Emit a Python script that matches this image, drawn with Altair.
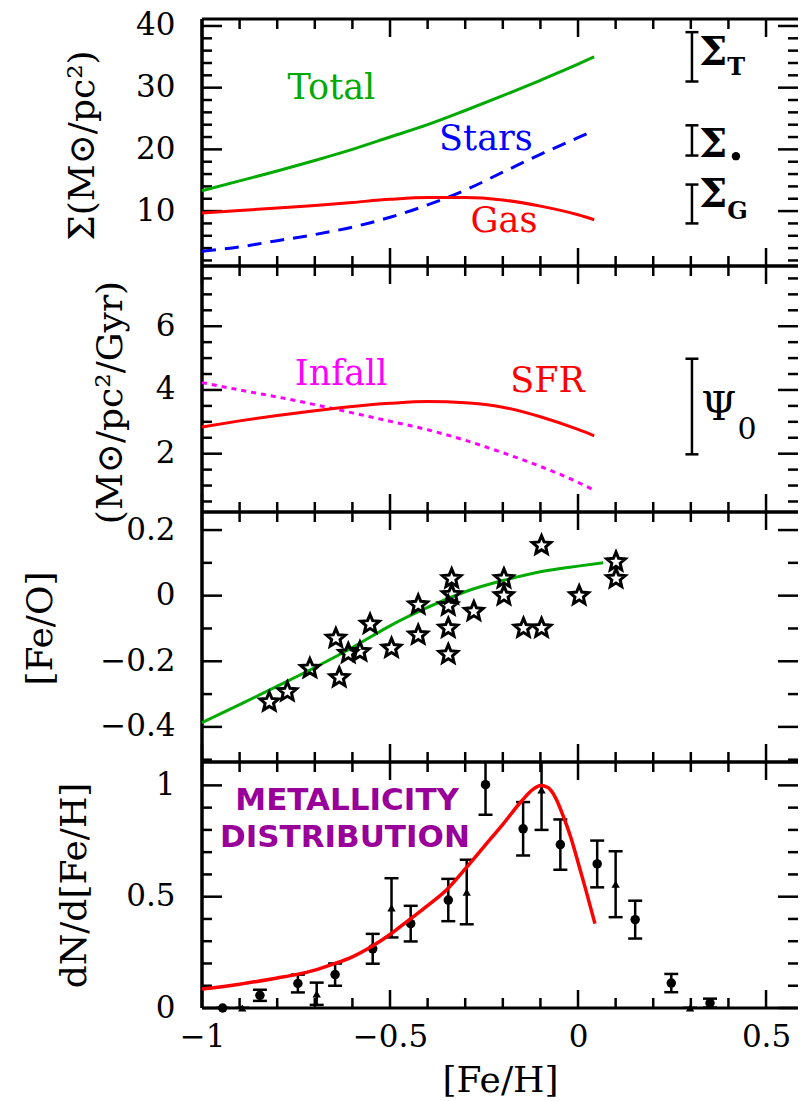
import math
import altair as alt
import pandas as pd

SERIF = "DejaVu Serif"
SANS = "DejaVu Sans"

# ---------------- data ----------------
feh_model = [-1.0, -0.9, -0.8, -0.7, -0.6, -0.5, -0.4, -0.3, -0.2, -0.1, 0.0, 0.043]
sigma_total = [13.3, 14.9, 16.5, 18.2, 20.0, 22.0, 24.0, 26.3, 28.7, 31.2, 33.8, 35.0]
sigma_stars = [3.5, 4.2, 5.2, 6.2, 7.4, 9.0, 11.0, 13.4, 16.3, 19.2, 21.9, 23.1]
sigma_gas = [9.7, 10.1, 10.5, 10.9, 11.4, 11.9, 12.2, 12.2, 11.8, 10.8, 9.4, 8.6]
infall = [4.23, 4.0, 3.78, 3.54, 3.28, 3.02, 2.75, 2.42, 2.03, 1.6, 1.1, 0.85]
sfr = [2.84, 3.03, 3.2, 3.35, 3.48, 3.58, 3.64, 3.6, 3.46, 3.16, 2.76, 2.56]

feh_feo_model = [-1.0, -0.9, -0.8, -0.7, -0.6, -0.5, -0.4, -0.3, -0.2, -0.1, 0.0, 0.067]
feo_model = [-0.387, -0.332, -0.276, -0.219, -0.158, -0.092, -0.036, 0.012, 0.046, 0.073, 0.09, 0.10]

feh_star = [-0.821, -0.773, -0.713, -0.644, -0.635, -0.611, -0.58, -0.553, -0.496, -0.425,
            -0.425, -0.336, -0.336, -0.345, -0.345, -0.345, -0.277, -0.197, -0.197, -0.145,
            -0.097, -0.097, 0.003, 0.101, 0.101]
feo_star = [-0.324, -0.293, -0.222, -0.13, -0.25, -0.176, -0.171, -0.087, -0.16, -0.028,
            -0.12, 0.052, 0.003, -0.031, -0.099, -0.179, -0.048, 0.052, 0.0, -0.099,
            -0.099, 0.153, 0.0, 0.103, 0.052]

feh_md_model = [-1.0, -0.9, -0.8, -0.75, -0.7, -0.65, -0.6, -0.55, -0.5, -0.45, -0.4, -0.35,
                -0.3, -0.25, -0.2, -0.15, -0.12, -0.1, -0.08, -0.06, -0.04, -0.02, 0.0,
                0.02, 0.045]
md_model = [0.085, 0.107, 0.135, 0.15, 0.17, 0.198, 0.23, 0.275, 0.33, 0.395, 0.46, 0.53,
            0.625, 0.725, 0.825, 0.93, 0.982, 1.0, 0.99, 0.945, 0.865, 0.77, 0.655,
            0.535, 0.379]

feh_circ = [-0.945, -0.846, -0.745, -0.646, -0.546, -0.445, -0.345, -0.246, -0.146, -0.047,
            0.051, 0.152, 0.248, 0.351]
md_circ = [0.0, 0.057, 0.11, 0.15, 0.266, 0.379, 0.485, 1.003, 0.805, 0.734, 0.647, 0.397, 0.112, 0.022]
err_circ = [0.0, 0.025, 0.04, 0.05, 0.067, 0.08, 0.095, 0.135, 0.12, 0.113, 0.105, 0.085, 0.041, 0.02]

feh_tri = [-0.893, -0.695, -0.496, -0.296, -0.097, 0.1, 0.298]
md_tri = [0.0, 0.064, 0.45, 0.521, 0.98, 0.556, 0.0]
err_tri = [0.0, 0.05, 0.133, 0.145, 0.18, 0.148, 0.0]

# reference error bars at the right of the two upper panels
bar_x = [0.303]
sigma_bar_lo = [31.0, 19.0, 8.0]
sigma_bar_hi = [39.0, 23.9, 14.3]
psi_bar_lo = [1.98]
psi_bar_hi = [4.98]

# tick values
x_major = [-1.0, -0.5, 0.0, 0.5]
x_minor = [-0.9, -0.8, -0.7, -0.6, -0.4, -0.3, -0.2, -0.1, 0.1, 0.2, 0.3, 0.4]
p1_major = [10, 20, 30, 40]
p1_minor = [2, 4, 6, 8, 12, 14, 16, 18, 22, 24, 26, 28, 32, 34, 36, 38]
p2_major = [2, 4, 6]
p2_minor = [0.5, 1, 1.5, 2.5, 3, 3.5, 4.5, 5, 5.5, 6.5, 7, 7.5]
p3_major = [-0.4, -0.2, 0, 0.2]
p3_minor = [-0.5, -0.3, -0.1, 0.1]
p4_major = [0, 0.5, 1]
p4_minor = [0.1, 0.2, 0.3, 0.4, 0.6, 0.7, 0.8, 0.9]

# ---------------- layout / style ----------------
W = 596
X_DOMAIN = [-1.0, 0.585]
xscale = alt.Scale(domain=X_DOMAIN, nice=False, zero=False)
GREEN = "#00aa00"
BLUE = "#0000ff"
RED = "#ff0000"
MAGENTA = "#ff00ff"
PURPLE = "#990099"
FMT = ".1~f"

# open five-pointed star as a custom symbol path
pts = []
for k in range(10):
    r = 1.0 if k % 2 == 0 else 0.45
    a = math.radians(-90 + 36 * k)
    pts.append(f"{r*math.cos(a):.3f},{r*math.sin(a):.3f}")
STAR = "M" + " L".join(pts) + " Z"

one = pd.DataFrame({"k": [0]})


def yaxis(values, title, tx, ty):
    return alt.Axis(values=values, format=FMT, ticks=False, domain=False, grid=False,
                    labelFont=SERIF, labelFontSize=31, labelColor="black", labelPadding=27,
                    labelOverlap=False, labelFlush=False,
                    title=title, titleFont=SERIF, titleFontSize=36, titleFontWeight="normal",
                    titleColor="black", titleX=tx, titleY=ty, titleAngle=270,
                    titleBaseline="middle", titleAlign="center")


xaxis_bottom = alt.Axis(values=x_major, format=FMT, ticks=False, domain=False, grid=False,
                        labelFont=SERIF, labelFontSize=31, labelColor="black", labelPadding=14,
                        labelOverlap=False, labelFlush=False,
                        title="[Fe/H]", titleFont=SERIF, titleFontSize=36,
                        titleFontWeight="normal", titleColor="black", titleY=72,
                        titleBaseline="middle")


def frame(H, ys, yax, xax):
    X = lambda f: alt.X(f, type="quantitative", scale=xscale, axis=xax)
    Y = lambda f: alt.Y(f, type="quantitative", scale=ys, axis=yax)
    layers = []
    base = alt.Chart(one)
    layers.append(base.mark_rule(color="black", strokeWidth=3.5).encode(
        x=alt.value(0), y=alt.value(0), y2=alt.value(H)))
    layers.append(base.mark_rule(color="black", strokeWidth=3).encode(
        x=alt.value(0), x2=alt.value(W), y=alt.value(0)))
    layers.append(base.mark_rule(color="black", strokeWidth=3).encode(
        x=alt.value(0), x2=alt.value(W), y=alt.value(H)))
    return layers, X, Y


def ticks(H, X, Y, ymaj, ymin):
    out = []
    for vals, L in ((x_major, 18), (x_minor, 10)):
        d = alt.Chart(pd.DataFrame({"t": vals}))
        out.append(d.mark_rule(color="black", strokeWidth=2.5).encode(
            x=X("t"), y=alt.value(0), y2=alt.value(L)))
        out.append(d.mark_rule(color="black", strokeWidth=2.5).encode(
            x=X("t"), y=alt.value(H), y2=alt.value(H - L)))
    for vals, L in ((ymaj, 20), (ymin, 10)):
        d = alt.Chart(pd.DataFrame({"t": vals}))
        out.append(d.mark_rule(color="black", strokeWidth=2.5).encode(
            y=Y("t"), x=alt.value(0), x2=alt.value(L)))
        out.append(d.mark_rule(color="black", strokeWidth=2.5).encode(
            y=Y("t"), x=alt.value(W), x2=alt.value(W - L)))
    return out


def cap(chart, X, Y, field, size):
    return chart.mark_point(shape="stroke", size=size, strokeWidth=2.5, color="black",
                            opacity=1, clip=True).encode(x=X("x" if "x" in field else field), y=Y(field))


# ---------------- panel 1: surface densities ----------------
H1 = 247
ys1 = alt.Scale(domain=[1.1, 41.13], nice=False, zero=False)
ax1 = yaxis(p1_major, "Σ(M⊙/pc²)", -120, 126)
L1, X1, Y1 = frame(H1, ys1, ax1, None)
L1 += ticks(H1, X1, Y1, p1_major, p1_minor)
d1 = pd.DataFrame({"feh": feh_model, "tot": sigma_total, "st": sigma_stars, "gas": sigma_gas})
c1 = alt.Chart(d1)
L1.append(c1.mark_line(color=GREEN, strokeWidth=3, interpolate="monotone").encode(x=X1("feh"), y=Y1("tot")))
L1.append(c1.mark_line(color=BLUE, strokeWidth=3, strokeDash=[14, 9], interpolate="monotone").encode(
    x=X1("feh"), y=Y1("st")))
L1.append(c1.mark_line(color=RED, strokeWidth=3, interpolate="monotone").encode(x=X1("feh"), y=Y1("gas")))
lab1 = pd.DataFrame({"x": [-0.656, -0.245, -0.197], "y": [30.0, 21.7, 8.45],
                     "t": ["Total", "Stars", "Gas"], "c": [GREEN, BLUE, RED]})
L1.append(alt.Chart(lab1).mark_text(font=SERIF, fontSize=35, align="center", baseline="middle").encode(
    x=X1("x"), y=Y1("y"), text="t:N", color=alt.Color("c:N", scale=None)))
bars1 = pd.DataFrame({"x": bar_x * 3, "lo": sigma_bar_lo, "hi": sigma_bar_hi})
cb1 = alt.Chart(bars1)
L1.append(cb1.mark_rule(color="black", strokeWidth=2.5).encode(x=X1("x"), y=Y1("lo"), y2="hi:Q"))
L1.append(cb1.mark_point(shape="stroke", size=169, strokeWidth=2.5, color="black", opacity=1).encode(
    x=X1("x"), y=Y1("lo")))
L1.append(cb1.mark_point(shape="stroke", size=169, strokeWidth=2.5, color="black", opacity=1).encode(
    x=X1("x"), y=Y1("hi")))
sig = pd.DataFrame({"x": [0.322, 0.322, 0.322], "y": [33.73, 18.82, 10.71], "t": ["Σ", "Σ", "Σ"]})
L1.append(alt.Chart(sig).mark_text(font=SERIF, fontSize=40, fontWeight="bold", align="left",
                                   baseline="alphabetic", color="black").encode(x=X1("x"), y=Y1("y"), text="t:N"))
sub = pd.DataFrame({"x": [0.397, 0.397], "y": [32.1, 8.77], "t": ["T", "G"]})
L1.append(alt.Chart(sub).mark_text(font=SERIF, fontSize=24, fontWeight="bold", align="left",
                                   baseline="alphabetic", color="black").encode(x=X1("x"), y=Y1("y"), text="t:N"))
L1.append(alt.Chart(pd.DataFrame({"x": [0.42], "y": [18.9]})).mark_point(
    shape="circle", filled=True, size=70, color="black", opacity=1).encode(x=X1("x"), y=Y1("y")))
panel1 = alt.layer(*L1).properties(width=W, height=H1)

# ---------------- panel 2: SFR and infall ----------------
H2 = 246
ys2 = alt.Scale(domain=[0.17, 7.89], nice=False, zero=False)
ax2 = yaxis(p2_major, "(M⊙/pc²/Gyr)", -92, 136)
L2, X2, Y2 = frame(H2, ys2, ax2, None)
L2 += ticks(H2, X2, Y2, p2_major, p2_minor)
d2 = pd.DataFrame({"feh": feh_model, "inf": infall, "sfr": sfr})
c2 = alt.Chart(d2)
L2.append(c2.mark_line(color=MAGENTA, strokeWidth=3, strokeDash=[5, 5], interpolate="monotone").encode(
    x=X2("feh"), y=Y2("inf")))
L2.append(c2.mark_line(color=RED, strokeWidth=3, interpolate="monotone").encode(x=X2("feh"), y=Y2("sfr")))
lab2 = pd.DataFrame({"x": [-0.63, -0.081], "y": [4.16, 3.94], "t": ["Infall", "SFR"], "c": [MAGENTA, RED]})
L2.append(alt.Chart(lab2).mark_text(font=SERIF, fontSize=35, align="center", baseline="alphabetic").encode(
    x=X2("x"), y=Y2("y"), text="t:N", color=alt.Color("c:N", scale=None)))
bars2 = pd.DataFrame({"x": bar_x, "lo": psi_bar_lo, "hi": psi_bar_hi})
cb2 = alt.Chart(bars2)
L2.append(cb2.mark_rule(color="black", strokeWidth=2.5).encode(x=X2("x"), y=Y2("lo"), y2="hi:Q"))
L2.append(cb2.mark_point(shape="stroke", size=169, strokeWidth=2.5, color="black", opacity=1).encode(
    x=X2("x"), y=Y2("lo")))
L2.append(cb2.mark_point(shape="stroke", size=169, strokeWidth=2.5, color="black", opacity=1).encode(
    x=X2("x"), y=Y2("hi")))
psi = pd.DataFrame({"x": [0.328, 0.424], "y": [3.05, 2.46], "t": ["Ψ", "0"], "s": [40, 30]})
L2.append(alt.Chart(psi).mark_text(font=SERIF, align="left", baseline="alphabetic", color="black").encode(
    x=X2("x"), y=Y2("y"), text="t:N", size=alt.Size("s:Q", scale=None)))
panel2 = alt.layer(*L2).properties(width=W, height=H2)

# ---------------- panel 3: [Fe/O] ----------------
H3 = 250
ys3 = alt.Scale(domain=[-0.507, 0.255], nice=False, zero=False)
ax3 = yaxis(p3_major, "[Fe/O]", -162, 116)
L3, X3, Y3 = frame(H3, ys3, ax3, None)
L3 += ticks(H3, X3, Y3, p3_major, p3_minor)
d3 = pd.DataFrame({"feh": feh_feo_model, "feo": feo_model})
L3.append(alt.Chart(d3).mark_line(color=GREEN, strokeWidth=3, interpolate="monotone").encode(
    x=X3("feh"), y=Y3("feo")))
s3 = pd.DataFrame({"feh": feh_star, "feo": feo_star})
L3.append(alt.Chart(s3).mark_point(shape=STAR, size=380, filled=False, strokeWidth=3, opacity=1,
                                   color="black").encode(x=X3("feh"), y=Y3("feo")))
panel3 = alt.layer(*L3).properties(width=W, height=H3)

# ---------------- panel 4: metallicity distribution ----------------
H4 = 246
ys4 = alt.Scale(domain=[0.0, 1.105], nice=False, zero=False)
ax4 = yaxis(p4_major, "dN/d[Fe/H]", -128, 123)
L4, X4, Y4 = frame(H4, ys4, ax4, xaxis_bottom)
L4 += ticks(H4, X4, Y4, p4_major, p4_minor)
pts4 = pd.DataFrame({"feh": feh_circ + feh_tri, "v": md_circ + md_tri, "e": err_circ + err_tri,
                     "m": ["c"] * len(feh_circ) + ["t"] * len(feh_tri)})
pts4["lo"] = pts4["v"] - pts4["e"]
pts4["hi"] = pts4["v"] + pts4["e"]
c4 = alt.Chart(pts4)
L4.append(c4.mark_rule(color="black", strokeWidth=2.5, clip=True).encode(x=X4("feh"), y=Y4("lo"), y2="hi:Q"))
L4.append(c4.mark_point(shape="stroke", size=196, strokeWidth=2.5, color="black", opacity=1,
                        clip=True).encode(x=X4("feh"), y=Y4("lo")))
L4.append(c4.mark_point(shape="stroke", size=196, strokeWidth=2.5, color="black", opacity=1,
                        clip=True).encode(x=X4("feh"), y=Y4("hi")))
L4.append(c4.transform_filter("datum.m == 'c'").mark_point(shape="circle", filled=True, size=90,
                                                          opacity=1, color="black").encode(
    x=X4("feh"), y=Y4("v")))
L4.append(c4.transform_filter("datum.m == 't'").mark_point(shape="triangle-up", filled=True, size=70,
                                                          opacity=1, color="black").encode(
    x=X4("feh"), y=Y4("v")))
d4 = pd.DataFrame({"feh": feh_md_model, "md": md_model})
L4.append(alt.Chart(d4).mark_line(color=RED, strokeWidth=3.5, interpolate="monotone").encode(
    x=X4("feh"), y=Y4("md")))
lab4 = pd.DataFrame({"x": [-0.614, -0.62], "y": [0.889, 0.723], "t": ["METALLICITY", "DISTRIBUTION"]})
L4.append(alt.Chart(lab4).mark_text(font=SANS, fontSize=31, fontWeight="bold", color=PURPLE,
                                    align="center", baseline="alphabetic").encode(
    x=X4("x"), y=Y4("y"), text="t:N"))
panel4 = alt.layer(*L4).properties(width=W, height=H4)

chart = alt.vconcat(panel1, panel2, panel3, panel4, spacing=0, bounds="flush").properties(
    padding={"left": 22, "top": 9, "right": 0, "bottom": 0},
    background="white",
).configure_view(stroke=None)

chart.save("out.html", embed_options={"renderer": "svg", "actions": False})
